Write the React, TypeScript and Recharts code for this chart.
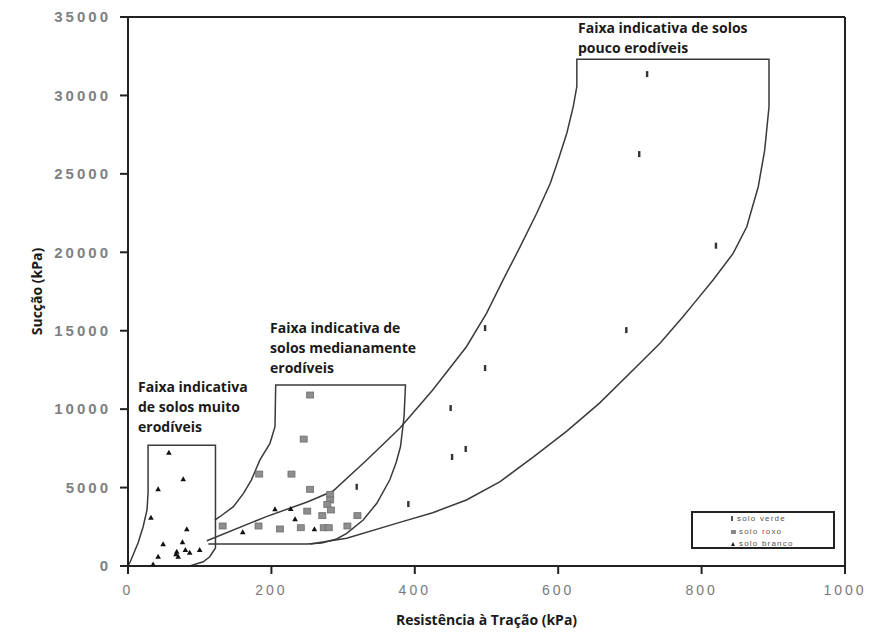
import { ComposedChart, Line, Scatter, XAxis, YAxis, ReferenceLine } from 'recharts'

// boundaries of the three "faixas"
const muitoBox = [
  { x: 0, y: 0 }, { x: 3, y: 255 }, { x: 14, y: 1470 }, { x: 21, y: 2490 }, { x: 26.5, y: 3570 },
  { x: 28, y: 4660 }, { x: 28, y: 7700 }, { x: 122, y: 7700 }, { x: 122, y: 1150 },
  { x: 114, y: 590 }, { x: 105, y: 270 }, { x: 86, y: 0 },
]

const medianBox = [
  { x: 121, y: 2930 }, { x: 128, y: 3140 }, { x: 147, y: 3780 }, { x: 161, y: 4630 },
  { x: 172, y: 5480 }, { x: 184, y: 6760 }, { x: 198, y: 7820 }, { x: 205, y: 8880 },
  { x: 206, y: 11540 }, { x: 387, y: 11540 }, { x: 385, y: 9500 }, { x: 380, y: 7600 },
  { x: 374, y: 6600 }, { x: 365, y: 5480 }, { x: 347, y: 4000 }, { x: 328, y: 2930 },
  { x: 305, y: 2080 }, { x: 291, y: 1720 }, { x: 270, y: 1470 }, { x: 250, y: 1400 },
  { x: 112, y: 1400 },
]

const poucoBox = [
  { x: 110, y: 1610 }, { x: 193, y: 3150 }, { x: 250, y: 4080 }, { x: 286, y: 4780 },
  { x: 333, y: 6760 }, { x: 379, y: 8780 }, { x: 425, y: 11220 }, { x: 472, y: 13980 },
  { x: 500, y: 16110 }, { x: 523, y: 18230 }, { x: 547, y: 20360 }, { x: 570, y: 22490 },
  { x: 589, y: 24400 }, { x: 600, y: 25890 }, { x: 612, y: 27590 }, { x: 621, y: 29290 },
  { x: 626, y: 30570 }, { x: 626, y: 32300 }, { x: 894, y: 32300 }, { x: 894, y: 29270 },
  { x: 888, y: 26510 }, { x: 879, y: 24180 }, { x: 863, y: 21630 }, { x: 844, y: 19930 },
  { x: 816, y: 18230 }, { x: 793, y: 16950 }, { x: 774, y: 15890 }, { x: 742, y: 14200 },
  { x: 721, y: 13250 }, { x: 658, y: 10400 }, { x: 612, y: 8600 }, { x: 566, y: 6970 },
  { x: 519, y: 5380 }, { x: 472, y: 4210 }, { x: 425, y: 3400 }, { x: 379, y: 2780 },
  { x: 305, y: 1770 }, { x: 254, y: 1400 },
]

const soloVerde = [
  { x: 498, y: 15170 }, { x: 498, y: 12620 }, { x: 450, y: 10070 }, { x: 471, y: 7460 },
  { x: 452, y: 6950 }, { x: 391, y: 3950 }, { x: 724, y: 31360 }, { x: 713, y: 26260 },
  { x: 820, y: 20420 }, { x: 695, y: 15040 }, { x: 319, y: 5050 },
]

const soloRoxo = [
  { x: 254, y: 10900 }, { x: 245, y: 8090 }, { x: 183, y: 5860 }, { x: 228, y: 5860 },
  { x: 254, y: 4890 }, { x: 282, y: 4570 }, { x: 282, y: 4210 }, { x: 278, y: 3930 },
  { x: 283, y: 3570 }, { x: 250, y: 3500 }, { x: 271, y: 3210 }, { x: 320, y: 3210 },
  { x: 132, y: 2550 }, { x: 182, y: 2550 }, { x: 212, y: 2360 }, { x: 241, y: 2440 },
  { x: 273, y: 2440 }, { x: 280, y: 2440 }, { x: 306, y: 2550 },
]

const soloBranco = [
  { x: 57, y: 7220 }, { x: 77, y: 5530 }, { x: 42, y: 4890 }, { x: 32, y: 3080 },
  { x: 82, y: 2340 }, { x: 205, y: 3610 }, { x: 227, y: 3630 }, { x: 233, y: 2980 },
  { x: 160, y: 2150 }, { x: 260, y: 2340 }, { x: 49, y: 1380 }, { x: 76, y: 1510 },
  { x: 80, y: 1020 }, { x: 68, y: 910 }, { x: 70, y: 590 }, { x: 86, y: 850 },
  { x: 100, y: 1020 }, { x: 42, y: 590 }, { x: 35, y: 100 }, { x: 67, y: 750 },
]

const xTicks = [0, 200, 400, 600, 800, 1000]
const yTicks = [0, 5000, 10000, 15000, 20000, 25000, 30000, 35000]

const LINE = '#3a3a3a'
const TITLE_FONT = '"Open Sans", Lato, sans-serif'

const VerdeMark = (p: any) => <rect x={p.cx - 1.2} y={p.cy - 3} width={2.4} height={6} fill="#333" />
const RoxoMark = (p: any) => (
  <rect x={p.cx - 3.5} y={p.cy - 3} width={7} height={6} fill="#8e8e8e" stroke="#6e6e6e" strokeWidth={0.8} />
)
const BrancoMark = (p: any) => (
  <path d={`M${p.cx},${p.cy - 3} L${p.cx + 2.8},${p.cy + 2} L${p.cx - 2.8},${p.cy + 2} Z`} fill="#111" />
)

const noteStyle: React.CSSProperties = {
  position: 'absolute',
  fontFamily: TITLE_FONT,
  fontWeight: 700,
  fontSize: 14,
  lineHeight: '20px',
  color: '#1a1a1a',
  whiteSpace: 'nowrap',
}

export default function App() {
  return (
    <div style={{ position: 'absolute', left: 0, top: 0, width: 869, height: 634, background: '#fff' }}>
      <ComposedChart width={869} height={634} margin={{ top: 17, right: 24, bottom: 0, left: 0 }}>
        <XAxis
          type="number"
          dataKey="x"
          domain={[0, 1000]}
          ticks={xTicks}
          height={68}
          tickSize={8}
          tickMargin={11}
          axisLine={{ stroke: '#222', strokeWidth: 2 }}
          tickLine={{ stroke: '#222', strokeWidth: 2 }}
          tick={{ fill: '#7a7a7a', fontSize: 14, letterSpacing: 3, fontFamily: 'Liberation Sans, Arial' }}
          label={{
            value: 'Resistência à Tração (kPa)', position: 'center', dy: 20,
            style: { fontFamily: TITLE_FONT, fontWeight: 700, fontSize: 14, fill: '#1a1a1a' },
          }}
        />
        <YAxis
          type="number"
          dataKey="y"
          domain={[0, 35000]}
          ticks={yTicks}
          width={128}
          tickSize={8}
          tickMargin={9}
          axisLine={{ stroke: '#222', strokeWidth: 2 }}
          tickLine={{ stroke: '#222', strokeWidth: 2 }}
          tick={{ fill: '#808080', fontSize: 15, fontWeight: 700, letterSpacing: 3, fontFamily: 'Liberation Sans, Arial' }}
          label={{
            value: 'Sucção (kPa)', angle: -90, position: 'center', dx: -27,
            style: { fontFamily: TITLE_FONT, fontWeight: 700, fontSize: 14, fill: '#1a1a1a' },
          }}
        />
        <ReferenceLine y={35000} stroke="#222" strokeWidth={2} />
        <ReferenceLine x={1000} stroke="#222" strokeWidth={2} />
        <Line data={muitoBox} dataKey="y" type="linear" dot={false} stroke={LINE} strokeWidth={1.5} isAnimationActive={false} />
        <Line data={medianBox} dataKey="y" type="linear" dot={false} stroke={LINE} strokeWidth={1.5} isAnimationActive={false} />
        <Line data={poucoBox} dataKey="y" type="linear" dot={false} stroke={LINE} strokeWidth={1.5} isAnimationActive={false} />
        <Scatter data={soloVerde} dataKey="y" shape={VerdeMark} isAnimationActive={false} />
        <Scatter data={soloRoxo} dataKey="y" shape={RoxoMark} isAnimationActive={false} />
        <Scatter data={soloBranco} dataKey="y" shape={BrancoMark} isAnimationActive={false} />
      </ComposedChart>

      <div style={{ ...noteStyle, left: 578, top: 18 }}>Faixa indicativa de solos<br />pouco erodíveis</div>
      <div style={{ ...noteStyle, left: 270, top: 318 }}>Faixa indicativa de<br />solos medianamente<br />erodíveis</div>
      <div style={{ ...noteStyle, left: 138, top: 377 }}>Faixa indicativa<br />de solos muito<br />erodíveis</div>

      <div
        style={{
          position: 'absolute', left: 691, top: 511, width: 140, height: 34,
          border: '2px solid #222', fontFamily: 'Liberation Sans, Arial', fontSize: 8,
          letterSpacing: 1.2, color: '#555', lineHeight: '12.5px',
        }}
      >
        <div style={{ position: 'absolute', left: 38, top: 0 }}>
          <div><span style={{ display: 'inline-block', width: 2, height: 5, background: '#555', marginRight: 4 }} />solo verde</div>
          <div><span style={{ display: 'inline-block', width: 5, height: 4, background: '#888', marginRight: 3 }} />solo roxo</div>
          <div><span style={{ display: 'inline-block', width: 0, height: 0, borderLeft: '2px solid transparent', borderRight: '2px solid transparent', borderBottom: '4px solid #222', marginRight: 4 }} />solo branco</div>
        </div>
      </div>
    </div>
  )
}
